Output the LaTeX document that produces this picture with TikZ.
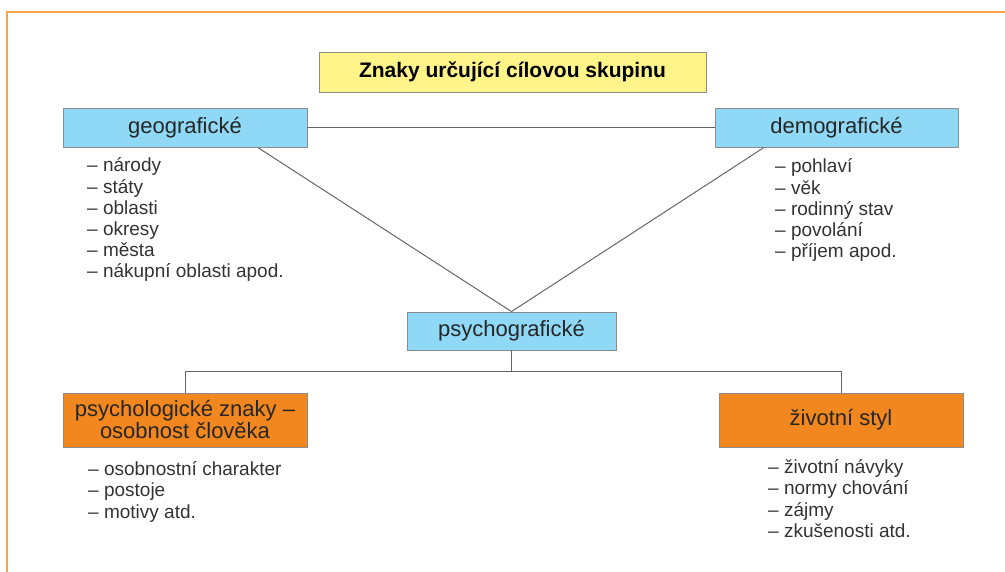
\documentclass[tikz,border=0pt]{standalone}
\usepackage{fontspec}
\setmainfont{Liberation Sans}
\usetikzlibrary{calc,positioning}

\definecolor{boxblue}{HTML}{8FD8F6}
\definecolor{boxorange}{HTML}{F2871F}
\definecolor{boxyellow}{HTML}{FFF48A}
\definecolor{frameorange}{HTML}{F7A24A}

\begin{document}
\begin{tikzpicture}[x=1pt,y=-1pt,
    box/.style={draw=black!45, line width=0.8pt, inner sep=0pt, text=black!85,
        font=\fontsize{22}{22}\selectfont, align=center},
    item/.style={anchor=base west, inner sep=0pt, text=black!80,
        font=\fontsize{19}{21}\selectfont},
    link/.style={black!60, line width=1pt}]

    \useasboundingbox (0,0) rectangle (1005,572);
    % frame
    \draw[frameorange, line width=2pt] (7,572) -- (7,12) -- (1005,12);

    \node[box, fill=boxyellow, minimum width=387pt, minimum height=40pt, text=black,
        font=\fontsize{21}{21}\selectfont\bfseries] (title) at (512.5,72) {Znaky určující cílovou skupinu};

    \node[box, fill=boxblue, minimum width=244pt, minimum height=39pt] (geo) at (185,128) {geografické};
    \node[box, fill=boxblue, minimum width=243pt, minimum height=39pt] (demo) at (836.5,128) {demografické};
    \node[box, fill=boxblue, minimum width=209pt, minimum height=38pt] (psycho) at (511.5,331) {psychografické};
    \node[box, fill=boxorange, minimum width=244pt, minimum height=54pt] (znaky) at (185,420) {psychologické znaky –\\osobnost člověka};
    \node[box, fill=boxorange, minimum width=244pt, minimum height=54pt] (styl) at (841,420) {životní styl};

    % lists
    \foreach \t [count=\i] in {národy, státy, oblasti, okresy, města, nákupní oblasti apod.}
        \node[item] (geo-\i) at (87,{150.8+21.2*\i}) {– \t};
    \foreach \t [count=\i] in {pohlaví, věk, rodinný stav, povolání, příjem apod.}
        \node[item] (demo-\i) at (775,{151.8+21.2*\i}) {– \t};
    \foreach \t [count=\i] in {osobnostní charakter, postoje, motivy atd.}
        \node[item] (znaky-\i) at (88,{453.2+21.8*\i}) {– \t};
    \foreach \t [count=\i] in {životní návyky, normy chování, zájmy, zkušenosti atd.}
        \node[item] (styl-\i) at (768,{451.5+21.5*\i}) {– \t};

    % connectors
    \draw[link] (geo.east) -- (demo.west);
    \draw[link] ($(geo.south west)!0.8!(geo.south east)$) -- (psycho.north);
    \draw[link] ($(demo.south west)!0.2!(demo.south east)$) -- (psycho.north);
    \draw[link] (psycho.south) -- ++(0,21) coordinate (fork);
    \draw[link] (znaky.north) |- (fork) -| (styl.north);
\end{tikzpicture}
\end{document}
